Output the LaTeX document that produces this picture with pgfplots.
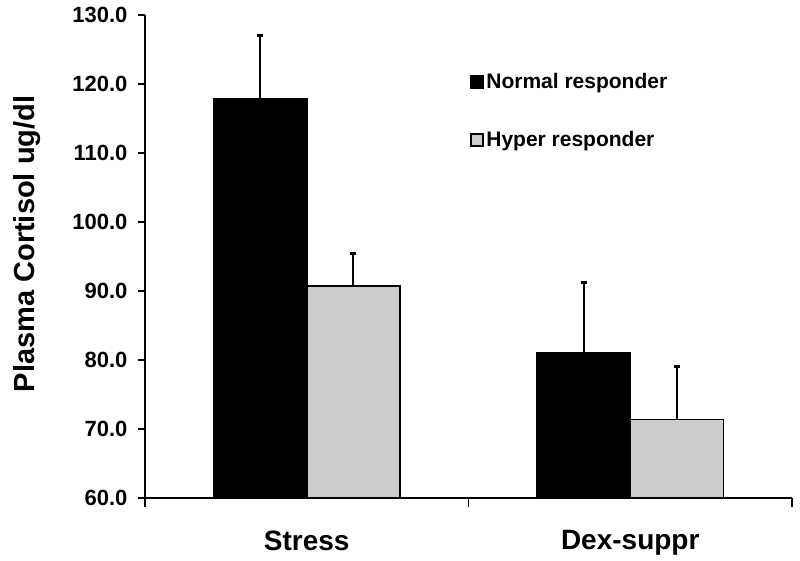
\documentclass[border=0pt]{standalone}
\usepackage{fontspec}
\setmainfont{Liberation Sans}
\usepackage{pgfplots}
\pgfplotsset{compat=1.18}
\definecolor{hypergray}{RGB}{204,204,204}
\begin{document}
\begin{tikzpicture}
\begin{axis}[
    name=ax,
    scale only axis,
    width=647pt, height=483pt,
    ybar,
    bar width=0.2875,
    xmin=-0.5, xmax=1.5,
    ymin=60, ymax=130,
    ytick={60,70,...,130},
    xtick={0,1},
    xticklabels={Stress,Dex-suppr},
    minor xtick={-0.5,0.5,1.5},
    axis x line*=bottom, axis y line*=left,
    axis line style={line width=1.5pt,-},
    tick align=outside,
    major tick length=7pt,
    minor tick length=9pt,
    every tick/.style={black,line width=1.5pt},
    x tick style={draw=none},
    minor x tick style={draw=black,line width=1.5pt},
    /pgf/number format/assume math mode=true,
    yticklabel style={/pgf/number format/fixed,/pgf/number format/fixed zerofill,
        /pgf/number format/precision=1,
        font=\bfseries\fontsize{22}{26}\selectfont, xshift=-7pt},
    xticklabel style={font=\bfseries\fontsize{28}{32}\selectfont, yshift=-22pt},
    ylabel={Plasma Cortisol ug/dl},
    every axis y label/.style={at={(rel axis cs:0,0.526)}, anchor=center, rotate=90,
        yshift=118pt, font=\bfseries\fontsize{29}{34}\selectfont},
    legend style={at={(rel axis cs:0.502,0.883)}, anchor=north west, draw=none, fill=none,
        inner sep=0pt, row sep=37pt, font=\bfseries\fontsize{21}{25}\selectfont,
        nodes={inner sep=2pt}},
    legend cell align=left,
    error bars/error bar style={line width=2pt,black},
    error bars/error mark options={rotate=90,line width=3pt,black,mark size=3pt},
]
\addplot[draw=black, fill=black, line width=1.5pt, bar shift=-0.14375,
    legend image code/.code={\draw[fill=black,draw=black,line width=1pt] (0pt,-6.5pt) rectangle (13pt,6.5pt);},
    error bars/.cd, y dir=plus, y explicit]
    coordinates {(0,117.9) +- (0,9.2) (1,81.1) +- (0,10.1)};
\addlegendentry{Normal responder}
\addplot[draw=black, fill=hypergray, line width=1.5pt, bar shift=0.14375,
    legend image code/.code={\draw[fill=hypergray,draw=black,line width=1.8pt] (0pt,-6pt) rectangle (12pt,6pt);},
    error bars/.cd, y dir=plus, y explicit]
    coordinates {(0,90.7) +- (0,4.8) (1,71.4) +- (0,7.6)};
\addlegendentry{Hyper responder}
\end{axis}
\pgfresetboundingbox
\path ([shift={(-145pt,-63pt)}]ax.south west) rectangle ([shift={(8pt,15pt)}]ax.north east);
\end{tikzpicture}
\end{document}
